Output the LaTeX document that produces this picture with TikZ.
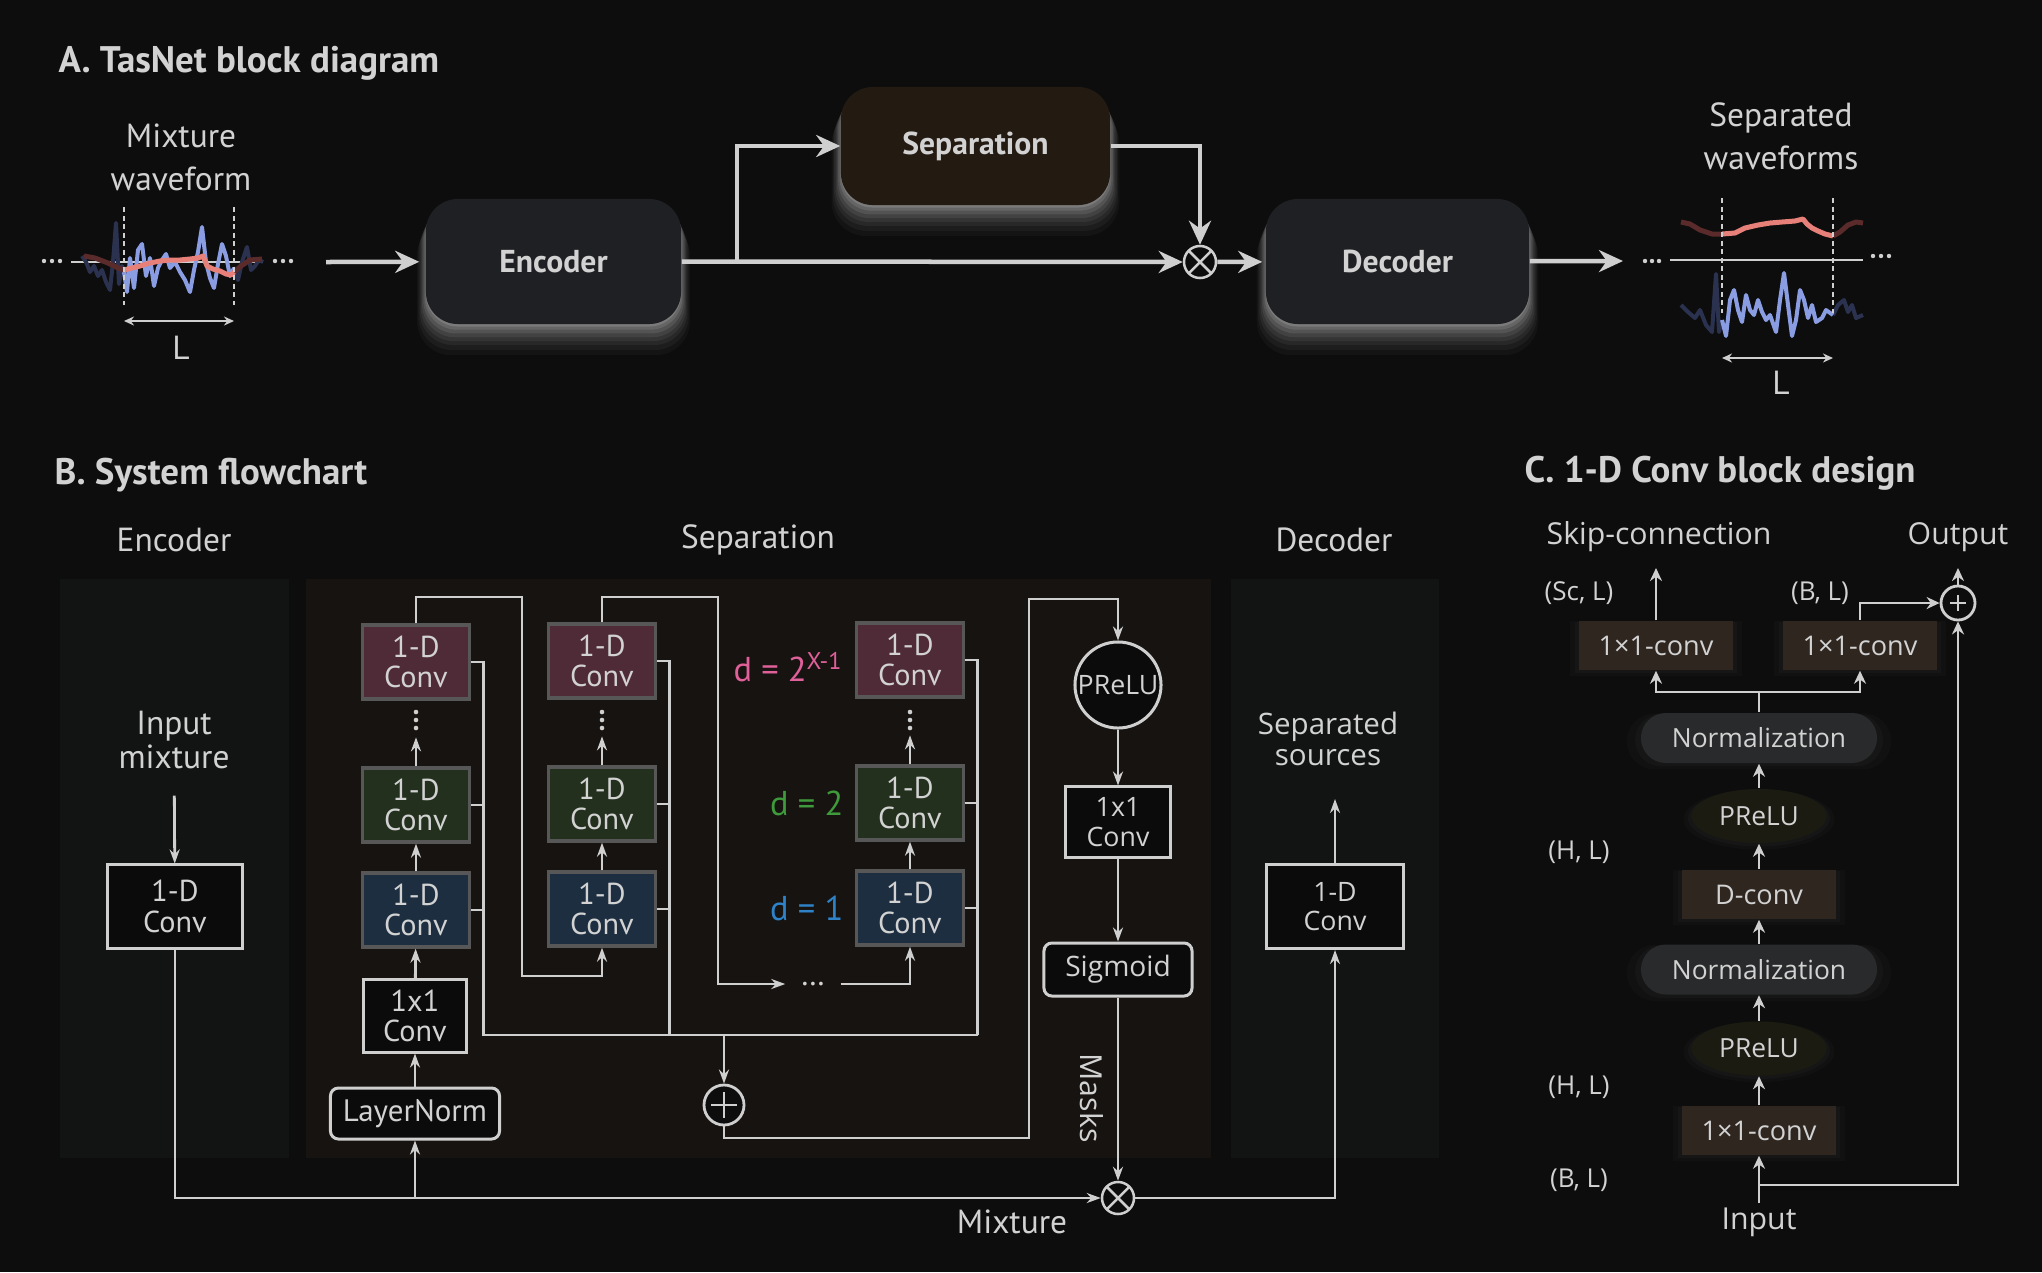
\documentclass[tikz,border=0pt]{standalone}
\usepackage{fontspec}
\setmainfont{PT Sans}
\newfontfamily\osans{Open Sans}
\usepackage{tikz}
\usetikzlibrary{arrows.meta,positioning,calc,shapes.geometric,shadows}
\definecolor{bgdark}{HTML}{0D0D0D}
\definecolor{txtgray}{HTML}{D2D2D2}
\definecolor{linegray}{HTML}{CFCFCF}
\definecolor{topbox}{HTML}{1F2023}
\definecolor{sepbox}{HTML}{231A12}
\definecolor{encpanel}{HTML}{121414}
\definecolor{seppanel}{HTML}{171311}
\definecolor{edgegray}{HTML}{575757}
\definecolor{boxblack}{HTML}{0B0B0B}
\definecolor{dilred}{HTML}{4F2B37}
\definecolor{dilgreen}{HTML}{22301D}
\definecolor{dilblue}{HTML}{1C2E40}
\definecolor{dpink}{HTML}{E0609A}
\definecolor{dgreen}{HTML}{3E9A3A}
\definecolor{dblue}{HTML}{2E82C8}
\definecolor{convbrown}{HTML}{2F2620}
\definecolor{normgray}{HTML}{282A2B}
\definecolor{preluolive}{HTML}{1B1B12}
\definecolor{wavblue}{HTML}{8A9DE2}
\definecolor{wavnavy}{HTML}{2B3250}
\definecolor{wavred}{HTML}{E8807A}
\definecolor{wavdred}{HTML}{5B2A2A}

\begin{document}
\begin{tikzpicture}[x=0.01cm, y=-0.01cm,
  every node/.style={text=txtgray},
  title/.style={font=\bfseries\fontsize{10.5pt}{12pt}\selectfont, inner sep=0, anchor=base west},
  lbl/.style={font=\fontsize{9.5pt}{12.2pt}\selectfont, align=center, inner sep=0},
  clbl/.style={font=\osans\fontsize{8.6pt}{10pt}\selectfont, inner sep=0},
  dimlbl/.style={font=\osans\fontsize{7.4pt}{9pt}\selectfont, inner sep=0},
  glow/.style={
    general shadow={fill=white, opacity=.03, shadow scale=1.07, shadow yshift=-0.25cm},
    general shadow={fill=white, opacity=.04, shadow scale=1.06, shadow yshift=-0.21cm},
    general shadow={fill=white, opacity=.05, shadow scale=1.05, shadow yshift=-0.17cm},
    general shadow={fill=white, opacity=.06, shadow scale=1.04, shadow yshift=-0.14cm},
    general shadow={fill=white, opacity=.07, shadow scale=1.03, shadow yshift=-0.11cm},
    general shadow={fill=white, opacity=.09, shadow scale=1.02, shadow yshift=-0.08cm},
    general shadow={fill=white, opacity=.11, shadow scale=1.01, shadow yshift=-0.05cm},
    general shadow={fill=white, opacity=.14, shadow scale=1.0, shadow yshift=-0.025cm}},
  softglow/.style={
    general shadow={fill=white, opacity=.02, shadow scale=1.12, shadow yshift=-0.03cm},
    general shadow={fill=white, opacity=.025, shadow scale=1.05, shadow yshift=-0.02cm}},
  bigbox/.style={rounded corners=0.32cm, fill=topbox, minimum width=2.55cm, minimum height=1.25cm, inner sep=0, font=\bfseries\fontsize{9pt}{12pt}\selectfont, glow},
  bigarrow/.style={-{Stealth[length=0.24cm, width=0.22cm]}, line width=0.045cm, draw=linegray},
  multnode/.style={circle, draw=linegray, fill=bgdark, inner sep=0, line width=0.025cm,
    path picture={\draw[linegray, line width=0.025cm] (path picture bounding box.south west) -- (path picture bounding box.north east) (path picture bounding box.north west) -- (path picture bounding box.south east);}},
  addnode/.style={circle, draw=linegray, fill=bgdark, inner sep=0, line width=0.028cm,
    path picture={\draw[linegray, line width=0.028cm] ([yshift=-#1]path picture bounding box.north) -- ([yshift=#1]path picture bounding box.south) ([xshift=#1]path picture bounding box.west) -- ([xshift=-#1]path picture bounding box.east);}},
  addnode/.default=2pt,
  dconv/.style={draw=edgegray, line width=0.033cm, minimum width=1.07cm, minimum height=0.74cm, inner sep=0, align=center, font=\fontsize{8.6pt}{8.6pt}\selectfont},
  wbox/.style={draw=linegray, line width=0.03cm, fill=boxblack, inner sep=0, align=center, font=\fontsize{8.6pt}{8.6pt}\selectfont},
  obox/.style={wbox, font=\osans\fontsize{7.6pt}{8.4pt}\selectfont},
  wire/.style={line width=0.028cm, draw=linegray},
  thinarrow/.style={wire, -{Stealth[length=0.14cm, width=0.1cm]}},
  dlbl/.style={font=\fontsize{9.8pt}{12pt}\selectfont, anchor=east, inner sep=0},
  cbox/.style={fill=convbrown, minimum width=1.54cm, minimum height=0.49cm, inner sep=0, font=\osans\fontsize{7.7pt}{9pt}\selectfont, softglow},
  normbox/.style={fill=normgray, rounded corners=0.25cm, minimum width=2.36cm, minimum height=0.5cm, inner sep=0, font=\osans\fontsize{7.5pt}{9pt}\selectfont, softglow},
  preluell/.style={ellipse, fill=preluolive, minimum width=1.35cm, minimum height=0.54cm, inner sep=0, font=\osans\fontsize{7.5pt}{9pt}\selectfont, softglow},
  carrow/.style={wire, -{Stealth[length=0.13cm, width=0.12cm]}},
  wave/.style={line width=0.04cm, line join=round},
  dotline/.style={draw=linegray, line width=0.025cm, dash pattern=on 0.05cm off 0.035cm}
]
\fill[bgdark] (0,0) rectangle (2042,1272);
\useasboundingbox (0,0) rectangle (2042,1272);

% ---------- A. block diagram
\node[title] (titA) at (58,72) {A. TasNet block diagram};
\node[lbl] (mixlbl) at (181,157) {Mixture\\waveform};
\draw[linegray, line width=0.012cm] (71,262) -- (263,262);
\foreach \x in {44,52,60,275,283,291} \fill[linegray] (\x,261) circle (2.2);
\draw[wave, wavnavy] plot coordinates {(82,256) (86,262) (90,272) (94,266) (98,276) (102,270) (106,282) (110,290) (113,262) (116,223) (119,284) (122,266) (124,272)};
\draw[wave, wavnavy] plot coordinates {(234,268) (238,280) (242,262) (247,247) (251,270) (255,266) (259,260) (263,262)};
\draw[wave, wavblue] plot coordinates {(124,272) (127,292) (130,258) (134,288) (138,250) (142,244) (146,276) (150,258) (154,286) (158,268) (162,260) (166,254) (170,268) (175,262) (180,272) (185,280) (190,292) (194,270) (198,252) (202,227) (206,262) (210,278) (214,288) (218,264) (222,244) (226,256) (230,276) (234,268)};
\draw[wave, wavdred, line width=0.05cm] plot coordinates {(84,256) (95,258) (108,263) (118,268) (124,270)};
\draw[wave, wavdred, line width=0.05cm] plot coordinates {(234,272) (241,266) (250,260) (262,259)};
\draw[wave, wavred, line width=0.05cm] plot coordinates {(124,270) (132,268) (140,266) (150,263) (160,261) (170,260) (180,260) (190,259) (198,258) (203,256) (207,266) (213,269) (220,271) (226,274) (231,275) (234,272)};
\draw[dotline] (124,207) -- (124,305);
\draw[dotline] (234,207) -- (234,305);
\draw[linegray, line width=0.025cm, {Stealth[length=0.1cm, width=0.09cm]}-{Stealth[length=0.1cm, width=0.09cm]}] (124,321) -- (234,321);
\node[lbl] (mixL) at (181,348) {L};

\node[bigbox] (enc) at (553.5,261.5) {Encoder};
\node[bigbox, fill=sepbox, minimum width=2.69cm, minimum height=1.18cm] (sep) at (975.5,146) {Separation};
\node[multnode, minimum size=0.32cm] (mulA) at (1200,262) {};
\node[bigbox, minimum width=2.63cm] (dec) at (1397.5,261.5) {Decoder};

\coordinate (mixout) at (326,262);
\coordinate (split) at (737,262);
\coordinate (wavin) at (1623,261);
\draw[bigarrow, shorten >=0.06cm] (mixout) -- (enc);
\draw[bigarrow] (enc.east) -- (mulA);
\draw[bigarrow] (split) |- (sep);
\draw[bigarrow] (sep) -| (mulA);
\draw[bigarrow, shorten >=0.03cm] (mulA) -- (dec);
\draw[bigarrow] (dec) -- (wavin);

\node[lbl] (sepwlbl) at (1781,136) {Separated\\waveforms};
\draw[linegray, line width=0.012cm] (1670,260) -- (1863,260);
\foreach \x in {1645,1652,1659} \fill[linegray] (\x,261) circle (2.2);
\foreach \x in {1873,1881,1889} \fill[linegray] (\x,256) circle (2.2);
\draw[wave, wavdred, line width=0.05cm] plot coordinates {(1681,222) (1690,224) (1700,230) (1712,234) (1722,234)};
\draw[wave, wavdred, line width=0.05cm] plot coordinates {(1833,236) (1840,232) (1848,225) (1856,222) (1863,223)};
\draw[wave, wavred, line width=0.05cm] plot coordinates {(1722,234) (1735,233) (1745,228) (1758,225) (1770,223) (1782,222) (1795,221) (1803,219) (1807,224) (1812,228) (1818,231) (1825,234) (1833,236)};
\draw[wave, wavnavy] plot coordinates {(1681,305) (1688,312) (1695,318) (1700,310) (1706,325) (1712,332) (1716,274) (1719,332) (1722,320)};
\draw[wave, wavnavy] plot coordinates {(1833,315) (1838,305) (1844,300) (1848,312) (1852,305) (1856,318) (1863,315)};
\draw[wave, wavblue] plot coordinates {(1722,320) (1726,336) (1730,300) (1734,290) (1738,310) (1742,322) (1746,295) (1750,310) (1754,315) (1758,300) (1762,312) (1766,320) (1770,315) (1776,332) (1780,300) (1784,273) (1788,305) (1792,336) (1796,320) (1800,290) (1804,300) (1808,318) (1812,305) (1816,322) (1822,318) (1826,310) (1833,315)};
\draw[dotline] (1722,198) -- (1722,313);
\draw[dotline] (1833,198) -- (1833,313);
\draw[linegray, line width=0.025cm, {Stealth[length=0.1cm, width=0.09cm]}-{Stealth[length=0.1cm, width=0.09cm]}] (1722,358) -- (1833,358);
\node[lbl] (sepL) at (1781,383) {L};

% ---------- B. system flowchart
\node[title] (titB) at (54,484) {B. System flowchart};
\node[lbl] (encB) at (174,540) {Encoder};
\node[lbl] (sepB) at (758,540) {Separation};
\node[lbl] (decB) at (1334,540) {Decoder};
\fill[encpanel] (60,579) rectangle (289,1158);
\fill[seppanel] (306,579) rectangle (1211,1158);
\fill[encpanel] (1231,579) rectangle (1439,1158);

\node[lbl, font=\fontsize{9.5pt}{8.6pt}\selectfont] (inmix) at (174,740) {Input\\mixture};
\node[wbox, minimum width=1.34cm, minimum height=0.83cm] (encconv) at (175,906.5) {1-D\\Conv};
\draw[thinarrow, shorten <=0.26cm] (inmix) -- (encconv);

\node[wbox, rounded corners=0.08cm, minimum width=1.69cm, minimum height=0.51cm, font=\fontsize{8.8pt}{9pt}\selectfont] (lnorm) at (415,1113.5) {LayerNorm};
\node[wbox, minimum width=1.03cm, minimum height=0.72cm] (inconvB) at (415,1016) {1x1\\Conv};

\node[dconv, fill=dilred] (c1r) at (416,662) {1-D\\Conv};
\node[dconv, fill=dilgreen] (c1g) at (416,805) {1-D\\Conv};
\node[dconv, fill=dilblue] (c1b) at (416,910) {1-D\\Conv};
\node[dconv, fill=dilred] (c2r) at (602,661) {1-D\\Conv};
\node[dconv, fill=dilgreen] (c2g) at (602,804) {1-D\\Conv};
\node[dconv, fill=dilblue] (c2b) at (602,909) {1-D\\Conv};
\node[dconv, fill=dilred] (c3r) at (910,660) {1-D\\Conv};
\node[dconv, fill=dilgreen] (c3g) at (910,803) {1-D\\Conv};
\node[dconv, fill=dilblue] (c3b) at (910,908) {1-D\\Conv};
\node[dlbl, text=dpink] (dtop) at (844,667) {d = 2\textsuperscript{X-1}};
\node[dlbl, text=dgreen] (dtwo) at (844,803) {d = 2};
\node[dlbl, text=dblue] (done) at (844,908) {d = 1};
\foreach \cx in {416,602,910} \foreach \dy in {712,720,728} \fill[linegray] (\cx,\dy) circle (2.3);

\draw[thinarrow] (lnorm) -- (inconvB);
\draw[thinarrow] (inconvB) -- (c1b);
\draw[thinarrow] (c1b) -- (c1g);
\draw[thinarrow] (c2b) -- (c2g);
\draw[thinarrow] (c3b) -- (c3g);
\draw[thinarrow] (c1g.north) -- ++(0,-29);
\draw[thinarrow] (c2g.north) -- ++(0,-29);
\draw[thinarrow] (c3g.north) -- ++(0,-29);

\node[font=\fontsize{9pt}{10pt}\selectfont, inner sep=0.15cm] (hdots) at (813,984) {\dots};
\draw[thinarrow] (c1r.north) |- (522,597) -- (522,976) -| (c2b.south);
\draw[thinarrow] (c2r.north) |- (718,597) |- (hdots.west);
\draw[thinarrow] (hdots.east) -| (c3b.south);

\coordinate (sum1) at (483.5,1035);
\coordinate (sum3) at (977.5,1035);
\coordinate (sumdrop) at (724,1035);
\draw[wire] (c1r.east) -| (sum1) -- (sum3);
\draw[wire] (c2r.east) -| (669.5,1035);
\draw[wire] (c3r.east) -| (sum3);
\draw[wire] (c1g.east) -- ++(14,0);
\draw[wire] (c1b.east) -- ++(14,0);
\draw[wire] (c2g.east) -- ++(14,0);
\draw[wire] (c2b.east) -- ++(14,0);
\draw[wire] (c3g.east) -- ++(14,0);
\draw[wire] (c3b.east) -- ++(14,0);
\node[addnode=2pt, minimum size=0.4cm] (addB) at (724,1105) {};
\draw[thinarrow] (sumdrop) -- (addB);

\node[circle, draw=linegray, line width=0.03cm, fill=boxblack, minimum size=0.86cm, inner sep=0, font=\osans\fontsize{7.6pt}{9pt}\selectfont] (prelu) at (1118,685) {PReLU};
\node[obox, minimum width=1.04cm, minimum height=0.7cm] (pconv) at (1118,822) {1x1\\Conv};
\node[obox, rounded corners=0.08cm, minimum width=1.48cm, minimum height=0.53cm, font=\osans\fontsize{8pt}{9pt}\selectfont] (sigm) at (1118,969.5) {Sigmoid};
\node[multnode, minimum size=0.32cm] (mulB) at (1118,1198) {};
\draw[thinarrow] (addB.south) |- (1029,1138) -- (1029,599) -| (prelu.north);
\draw[thinarrow] (prelu) -- (pconv);
\draw[thinarrow] (pconv) -- (sigm);
\draw[thinarrow] (sigm) -- (mulB);
\node[font=\osans\fontsize{8.6pt}{10pt}\selectfont, rotate=-90, inner sep=0] (masks) at (1092,1098) {Masks};

\coordinate (lnsplit) at (415,1198);
\draw[thinarrow] (encconv) |- (mulB);
\draw[thinarrow] (lnsplit) -- (lnorm);
\node[lbl] (mixB) at (1012,1222) {Mixture};

\node[obox, minimum width=1.36cm, minimum height=0.84cm] (decconv) at (1335,906.5) {1-D\\Conv};
\coordinate (sepsrc) at (1335,799);
\draw[thinarrow] (mulB) -| (decconv);
\draw[thinarrow] (decconv) -- (sepsrc);
\node[lbl, font=\osans\fontsize{8.4pt}{8.6pt}\selectfont] (srclbl) at (1328,739) {Separated\\sources};

% ---------- C. 1-D conv block
\node[title] (titC) at (1524,482) {C. 1-D Conv block design};
\node[clbl] (skiplbl) at (1659,537) {Skip-connection};
\node[clbl] (outlbl) at (1958,537) {Output};
\node[dimlbl] (dimsc) at (1579,593) {(Sc, L)};
\node[dimlbl] (dimbtop) at (1820,593) {(B, L)};
\node[dimlbl] (dimhtop) at (1579,852) {(H, L)};
\node[dimlbl] (dimhlow) at (1579,1087) {(H, L)};
\node[dimlbl] (dimblow) at (1579,1180) {(B, L)};
\node[clbl] (inlbl) at (1759,1222) {Input};

\node[cbox] (skipconv) at (1656,645.5) {1×1-conv};
\node[cbox] (resconv) at (1860,645.5) {1×1-conv};
\node[normbox] (norm2) at (1759,738) {Normalization};
\node[preluell] (prelu2) at (1759,816) {PReLU};
\node[cbox] (dconvC) at (1759,894.5) {D-conv};
\node[normbox] (norm1) at (1759,969.5) {Normalization};
\node[preluell] (prelu1) at (1759,1048.5) {PReLU};
\node[cbox] (inconv) at (1759,1130.5) {1×1-conv};
\node[addnode=2.6pt, minimum size=0.34cm] (addC) at (1958,603) {};

\coordinate (inC) at (1759,1203);
\coordinate (resC) at (1759,1185);
\coordinate (fork) at (1759,692);
\coordinate (skipout) at (1656,568);
\coordinate (outC) at (1958,568);
\draw[carrow] (inC) -- (inconv);
\draw[carrow] (resC) -| (addC);
\draw[carrow] (inconv) -- (prelu1);
\draw[carrow] (prelu1) -- (norm1);
\draw[carrow] (norm1) -- (dconvC);
\draw[carrow] (dconvC) -- (prelu2);
\draw[carrow] (prelu2) -- (norm2);
\draw[wire] (norm2) -- (fork);
\draw[carrow] (fork) -| (skipconv);
\draw[carrow] (fork) -| (resconv);
\draw[carrow] (skipconv) -- (skipout);
\draw[carrow] (resconv) |- (addC);
\draw[carrow] (addC) -- (outC);
\end{tikzpicture}
\end{document}
